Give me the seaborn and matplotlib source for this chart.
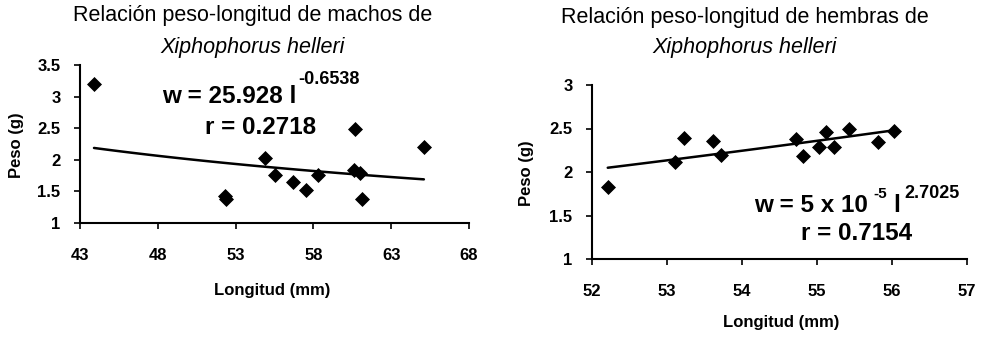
import numpy as np
import pandas as pd
import matplotlib
matplotlib.use("Agg")
import matplotlib.pyplot as plt
import seaborn as sns

# --- DATOS ---
machos_longitud = [43.9, 52.3, 52.4, 54.9, 55.5, 56.7, 57.5, 58.3, 60.7, 60.6, 61.0, 61.1, 65.1]
machos_peso = [3.20, 1.42, 1.38, 2.03, 1.76, 1.65, 1.53, 1.76, 2.48, 1.84, 1.79, 1.38, 2.20]

hembras_longitud = [52.21, 53.10, 53.22, 53.61, 53.72, 54.72, 54.81, 55.03, 55.12, 55.23, 55.43, 55.81, 56.03]
hembras_peso = [1.83, 2.11, 2.39, 2.36, 2.19, 2.38, 2.18, 2.29, 2.46, 2.29, 2.50, 2.34, 2.47]

# curvas potenciales w = a * l^b
a_machos, b_machos = 25.928, -0.6538
a_hembras, b_hembras = 4.67e-5, 2.7025

machos_xticks = [43, 48, 53, 58, 63, 68]
machos_yticks = [1, 1.5, 2, 2.5, 3, 3.5]
hembras_xticks = [52, 53, 54, 55, 56, 57]
hembras_yticks = [1, 1.5, 2, 2.5, 3]

df_m = pd.DataFrame({"Longitud": machos_longitud, "Peso": machos_peso})
df_h = pd.DataFrame({"Longitud": hembras_longitud, "Peso": hembras_peso})

lm = np.linspace(min(machos_longitud), max(machos_longitud), 100)
fit_m = pd.DataFrame({"Longitud": lm, "Peso": a_machos * lm ** b_machos})
lh = np.linspace(min(hembras_longitud), max(hembras_longitud), 100)
fit_h = pd.DataFrame({"Longitud": lh, "Peso": a_hembras * lh ** b_hembras})

# --- ESTILO ---
sns.set_style("white")
plt.rcParams["font.family"] = ["Liberation Sans", "DejaVu Sans"]
plt.rcParams["text.color"] = "black"
plt.rcParams["xtick.color"] = "black"
plt.rcParams["ytick.color"] = "black"
plt.rcParams["axes.labelcolor"] = "black"

W, H = 986, 337
fig = plt.figure(figsize=(W / 100, H / 100), dpi=100)


def px_axes(x0, x1, y0, y1):
    return fig.add_axes([x0 / W, 1 - y1 / H, (x1 - x0) / W, (y1 - y0) / H])


ax1 = px_axes(80, 469, 65, 223)
ax2 = px_axes(592, 967, 85, 259)


def estilo(ax, xticks, yticks):
    ax.set_xlim(xticks[0], xticks[-1])
    ax.set_ylim(yticks[0], yticks[-1])
    ax.set_xticks(xticks)
    ax.set_yticks(yticks)
    ax.set_xticklabels([f"{t:g}" for t in xticks], fontweight="bold", fontsize=12)
    ax.set_yticklabels([f"{t:g}" for t in yticks], fontweight="bold", fontsize=12)
    ax.tick_params(axis="x", direction="out", length=4, width=1.2, pad=14, bottom=True)
    ax.tick_params(axis="y", direction="out", length=4, width=1.2, pad=10, left=True)
    for s in ["top", "right"]:
        ax.spines[s].set_visible(False)
    for s in ["left", "bottom"]:
        ax.spines[s].set_color("black")
        ax.spines[s].set_linewidth(1.5)
    ax.set_xlabel("")
    ax.set_ylabel("")


# --- MACHOS ---
sns.scatterplot(data=df_m, x="Longitud", y="Peso", marker="D", s=50, color="black",
                edgecolor="black", ax=ax1, zorder=3, clip_on=False)
sns.lineplot(data=fit_m, x="Longitud", y="Peso", color="black", linewidth=1.8, ax=ax1)
estilo(ax1, machos_xticks, machos_yticks)

# --- HEMBRAS ---
sns.scatterplot(data=df_h, x="Longitud", y="Peso", marker="D", s=50, color="black",
                edgecolor="black", ax=ax2, zorder=3, clip_on=False)
sns.lineplot(data=fit_h, x="Longitud", y="Peso", color="black", linewidth=1.8, ax=ax2)
estilo(ax2, hembras_xticks, hembras_yticks)


def ftext(x, y, s, **kw):
    fig.text(x / W, 1 - y / H, s, color="black", **kw)


# titulos
ftext(253, 16, "Relación peso-longitud de machos de", ha="center", va="center", fontsize=15.5)
ftext(253, 48, "Xiphophorus helleri", ha="center", va="center", fontsize=15.5, style="italic")
ftext(745, 17, "Relación peso-longitud de hembras de", ha="center", va="center", fontsize=15.5)
ftext(745, 48, "Xiphophorus helleri", ha="center", va="center", fontsize=15.5, style="italic")

# etiquetas de ejes
ftext(272, 290, "Longitud (mm)", ha="center", va="center", fontsize=12, fontweight="bold")
ftext(17, 145, "Peso (g)", ha="center", va="center", fontsize=12, fontweight="bold", rotation=90)
ftext(781, 323, "Longitud (mm)", ha="center", va="center", fontsize=12, fontweight="bold")
ftext(527, 173, "Peso (g)", ha="center", va="center", fontsize=12, fontweight="bold", rotation=90)

# ecuaciones
ftext(162, 96, "w = 25.928 l", ha="left", va="center", fontsize=17.5, fontweight="bold")
ftext(298, 80, "-0.6538", ha="left", va="center", fontsize=13, fontweight="bold")
ftext(205, 127, "r = 0.2718", ha="left", va="center", fontsize=17.5, fontweight="bold")

ftext(754, 206, "w = 5 x 10", ha="left", va="center", fontsize=17.5, fontweight="bold")
ftext(873, 194, "-5", ha="left", va="center", fontsize=11, fontweight="bold")
ftext(893, 206, "l", ha="left", va="center", fontsize=17.5, fontweight="bold")
ftext(904, 193, "2.7025", ha="left", va="center", fontsize=13, fontweight="bold")
ftext(801, 234, "r = 0.7154", ha="left", va="center", fontsize=17.5, fontweight="bold")

fig.savefig("out.png", dpi=100)
